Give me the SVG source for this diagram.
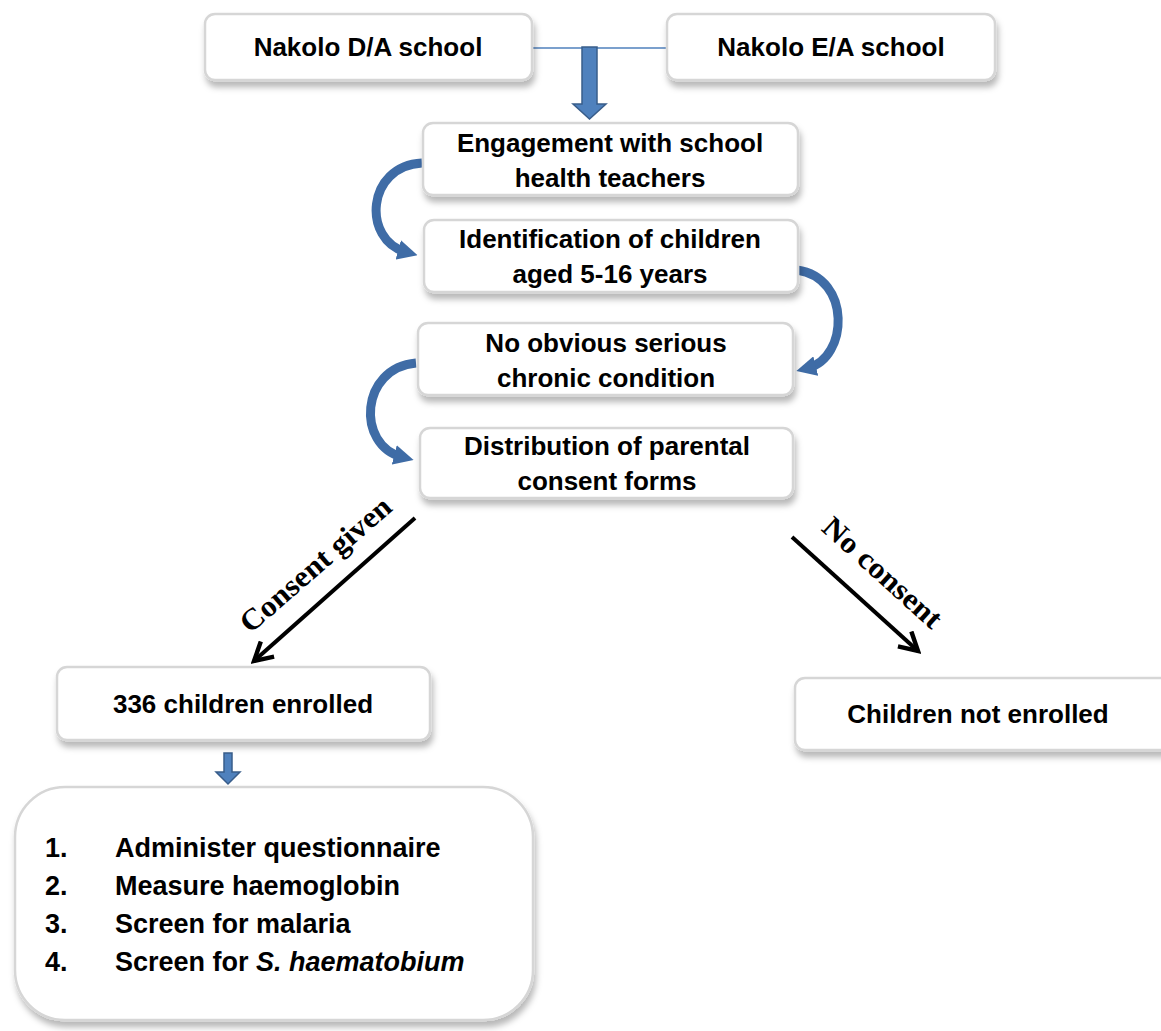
<svg xmlns="http://www.w3.org/2000/svg" width="1161" height="1031" viewBox="0 0 1161 1031">
<style>
.box{fill:#ffffff;stroke:#d6d6d6;stroke-width:2.5;filter:url(#sh)}
.t{font-family:"Liberation Sans",Arial,sans-serif;font-weight:bold;font-size:26px;fill:#000;text-anchor:middle}
.tl{font-family:"Liberation Sans",Arial,sans-serif;font-weight:bold;font-size:27px;fill:#000}
.lab{font-family:"Liberation Serif","Times New Roman",serif;font-weight:bold;font-size:30px;fill:#000}
.curve{fill:none;stroke:#3f6ca6;stroke-width:9;stroke-linecap:butt;marker-end:url(#bh)}
.blk{fill:none;stroke:#000;stroke-width:4;marker-end:url(#kh)}
.barrow{fill:#4f81bd;stroke:#385d8a;stroke-width:1.5}
</style>
<defs>
<filter id="sh" x="-10%" y="-20%" width="125%" height="160%">
<feDropShadow dx="2" dy="6" stdDeviation="3" flood-color="#000" flood-opacity="0.28"/>
</filter>
<marker id="bh" viewBox="0 0 10 10" refX="4" refY="5" markerWidth="20" markerHeight="20" markerUnits="userSpaceOnUse" orient="auto">
<path d="M0,0 L10,5 L0,10 z" fill="#3f6ca6"/>
</marker>
<marker id="kh" viewBox="0 0 12 12" refX="10" refY="6" markerWidth="24" markerHeight="24" markerUnits="userSpaceOnUse" orient="auto">
<path d="M1,1 L10,6 L1,11" fill="none" stroke="#000" stroke-width="2.2"/>
</marker>
</defs>

<g id="connectors">
<line x1="532" y1="48" x2="667" y2="48" stroke="#4f81bd" stroke-width="1.5"/>
<polygon class="barrow" points="582,47 597,47 597,104 606,104 589.5,119 573,104 582,104"/>
<path class="curve" d="M422,163 C366,166 362,240 406,252"/>
<path class="curve" d="M797,270 C852,278 848,358 808,368"/>
<path class="curve" d="M416,363 C360,368 356,445 402,457"/>
<line class="blk" x1="415" y1="518" x2="254" y2="661"/>
<line class="blk" x1="792" y1="537" x2="918" y2="651"/>
<text class="lab" transform="translate(322,572) rotate(-41)" text-anchor="middle" textLength="190" lengthAdjust="spacingAndGlyphs">Consent given</text>
<text class="lab" transform="translate(876,580) rotate(42)" text-anchor="middle" textLength="150" lengthAdjust="spacingAndGlyphs">No consent</text>
<polygon class="barrow" points="224,753 232,753 232,772 240,772 228,784 216,772 224,772"/>
</g>

<g id="node-da">
<rect class="box" x="205" y="14" width="327" height="66" rx="10"/>
<text class="t" x="368" y="56">Nakolo D/A school</text>
</g>
<g id="node-ea">
<rect class="box" x="667" y="14" width="328" height="66" rx="10"/>
<text class="t" x="831" y="56">Nakolo E/A school</text>
</g>
<g id="node-engagement">
<rect class="box" x="423" y="123" width="375" height="72" rx="10"/>
<text class="t" x="610" y="152">Engagement with school</text>
<text class="t" x="610" y="187">health teachers</text>
</g>
<g id="node-identification">
<rect class="box" x="424" y="220" width="374" height="72" rx="10"/>
<text class="t" x="610" y="248">Identification of children</text>
<text class="t" x="610" y="283">aged 5-16 years</text>
</g>
<g id="node-chronic">
<rect class="box" x="418" y="323" width="375" height="72" rx="10"/>
<text class="t" x="606" y="352">No obvious serious</text>
<text class="t" x="606" y="387">chronic condition</text>
</g>
<g id="node-distribution">
<rect class="box" x="420" y="428" width="373" height="70" rx="10"/>
<text class="t" x="607" y="455">Distribution of parental</text>
<text class="t" x="607" y="490">consent forms</text>
</g>
<g id="node-enrolled">
<rect class="box" x="57" y="667" width="373" height="73" rx="10"/>
<text class="t" x="243" y="713">336 children enrolled</text>
</g>
<g id="node-not-enrolled">
<rect class="box" x="795" y="678" width="380" height="72" rx="10"/>
<text class="t" x="978" y="723">Children not enrolled</text>
</g>
<g id="node-tasks">
<rect class="box" x="15" y="787" width="518" height="233" rx="50"/>
<text class="tl" x="45" y="857">1.</text>
<text class="tl" x="115" y="857">Administer questionnaire</text>
<text class="tl" x="45" y="895">2.</text>
<text class="tl" x="115" y="895">Measure haemoglobin</text>
<text class="tl" x="45" y="933">3.</text>
<text class="tl" x="115" y="933">Screen for malaria</text>
<text class="tl" x="45" y="971">4.</text>
<text class="tl" x="115" y="971">Screen for <tspan font-style="italic">S. haematobium</tspan></text>
</g>
</svg>
